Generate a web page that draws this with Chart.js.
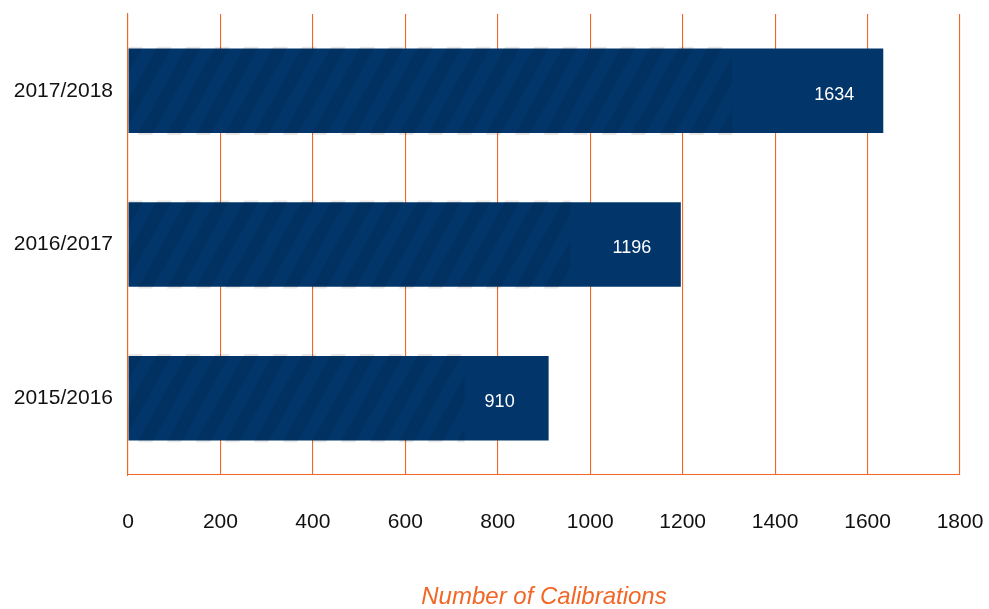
<!DOCTYPE html>
<html>
<head>
<meta charset="utf-8">
<script src="https://cdn.jsdelivr.net/npm/chart.js@4/dist/chart.umd.min.js"></script>
<style>
  html, body { margin: 0; padding: 0; background: #fff; }
  #wrap { width: 989px; height: 609px; }
</style>
</head>
<body>
<div id="wrap"><canvas id="myChart" width="989" height="609"></canvas></div>
<script>
// Calibrations per financial year
const seasons = ['2017/2018', '2016/2017', '2015/2016'];
const calibrations = [1634, 1196, 910];
const xTicks = [0, 200, 400, 600, 800, 1000, 1200, 1400, 1600, 1800];

const orange = '#f26626';
const navy = '#02366a';
const fontFamily = '"Liberation Sans", Arial, sans-serif';

// diagonal shading over the left part of each bar, then the value label
const barDecor = {
    id: 'barDecor',
    afterDatasetsDraw(chart) {
        const ctx = chart.ctx;
        const meta = chart.getDatasetMeta(0);
        meta.data.forEach((bar, i) => {
            const top = bar.y - bar.height / 2;
            const left = bar.base;
            const w = (bar.x - bar.base) * 0.8;
            const h = bar.height;

            ctx.save();
            ctx.beginPath();
            ctx.rect(left, top - 2, w, h + 4);
            ctx.clip();
            ctx.fillStyle = 'rgba(0,0,0,0.09)';
            const period = 29;
            const shift = h * 0.58;
            for (let x = left - shift - period; x < left + w + period; x += period) {
                ctx.beginPath();
                ctx.moveTo(x, top + h + 2);
                ctx.lineTo(x + period / 2, top + h + 2);
                ctx.lineTo(x + period / 2 + shift, top - 2);
                ctx.lineTo(x + shift, top - 2);
                ctx.closePath();
                ctx.fill();
            }
            ctx.restore();

            ctx.save();
            ctx.fillStyle = '#ffffff';
            ctx.font = '18px ' + fontFamily;
            ctx.textAlign = 'center';
            ctx.textBaseline = 'middle';
            ctx.fillText(String(calibrations[i]), bar.x - 49, bar.y + 4);
            ctx.restore();
        });
    }
};

const ctx = document.getElementById('myChart').getContext('2d');

new Chart(ctx, {
    type: 'bar',
    data: {
        labels: seasons,
        datasets: [{
            label: 'Number of Calibrations',
            data: calibrations,
            backgroundColor: navy,
            borderWidth: 0,
            barPercentage: 0.55,
            categoryPercentage: 1
        }]
    },
    options: {
        indexAxis: 'y',
        responsive: false,
        animation: false,
        layout: {
            padding: { top: 14, right: 0, left: 0, bottom: 0 }
        },
        plugins: {
            legend: { display: false },
            tooltip: { enabled: false }
        },
        scales: {
            x: {
                min: 0,
                max: 1800,
                afterBuildTicks: (scale) => {
                    scale.ticks = xTicks.map(v => ({ value: v }));
                },
                afterFit: (scale) => {
                    scale.height = 134;
                    scale.paddingLeft = 0;
                    scale.paddingRight = 29;
                },
                grid: {
                    color: orange,
                    lineWidth: 1.1,
                    drawTicks: false
                },
                border: { color: orange, width: 1.1 },
                ticks: {
                    color: '#111',
                    padding: 35,
                    maxRotation: 0,
                    callback: (v) => String(v),
                    font: { family: fontFamily, size: 21 }
                },
                title: {
                    display: true,
                    text: 'Number of Calibrations',
                    color: orange,
                    padding: { top: 0, bottom: 0 },
                    font: { family: fontFamily, size: 24, style: 'italic', lineHeight: 1 }
                }
            },
            y: {
                afterFit: (scale) => {
                    scale.width = 128;
                    scale.paddingTop = 0;
                    scale.paddingBottom = 0;
                },
                grid: { display: false, drawTicks: false },
                border: { color: orange, width: 1.1 },
                ticks: {
                    color: '#111',
                    padding: 15,
                    font: { family: fontFamily, size: 21 }
                }
            }
        }
    },
    plugins: [barDecor]
});
</script>
</body>
</html>
